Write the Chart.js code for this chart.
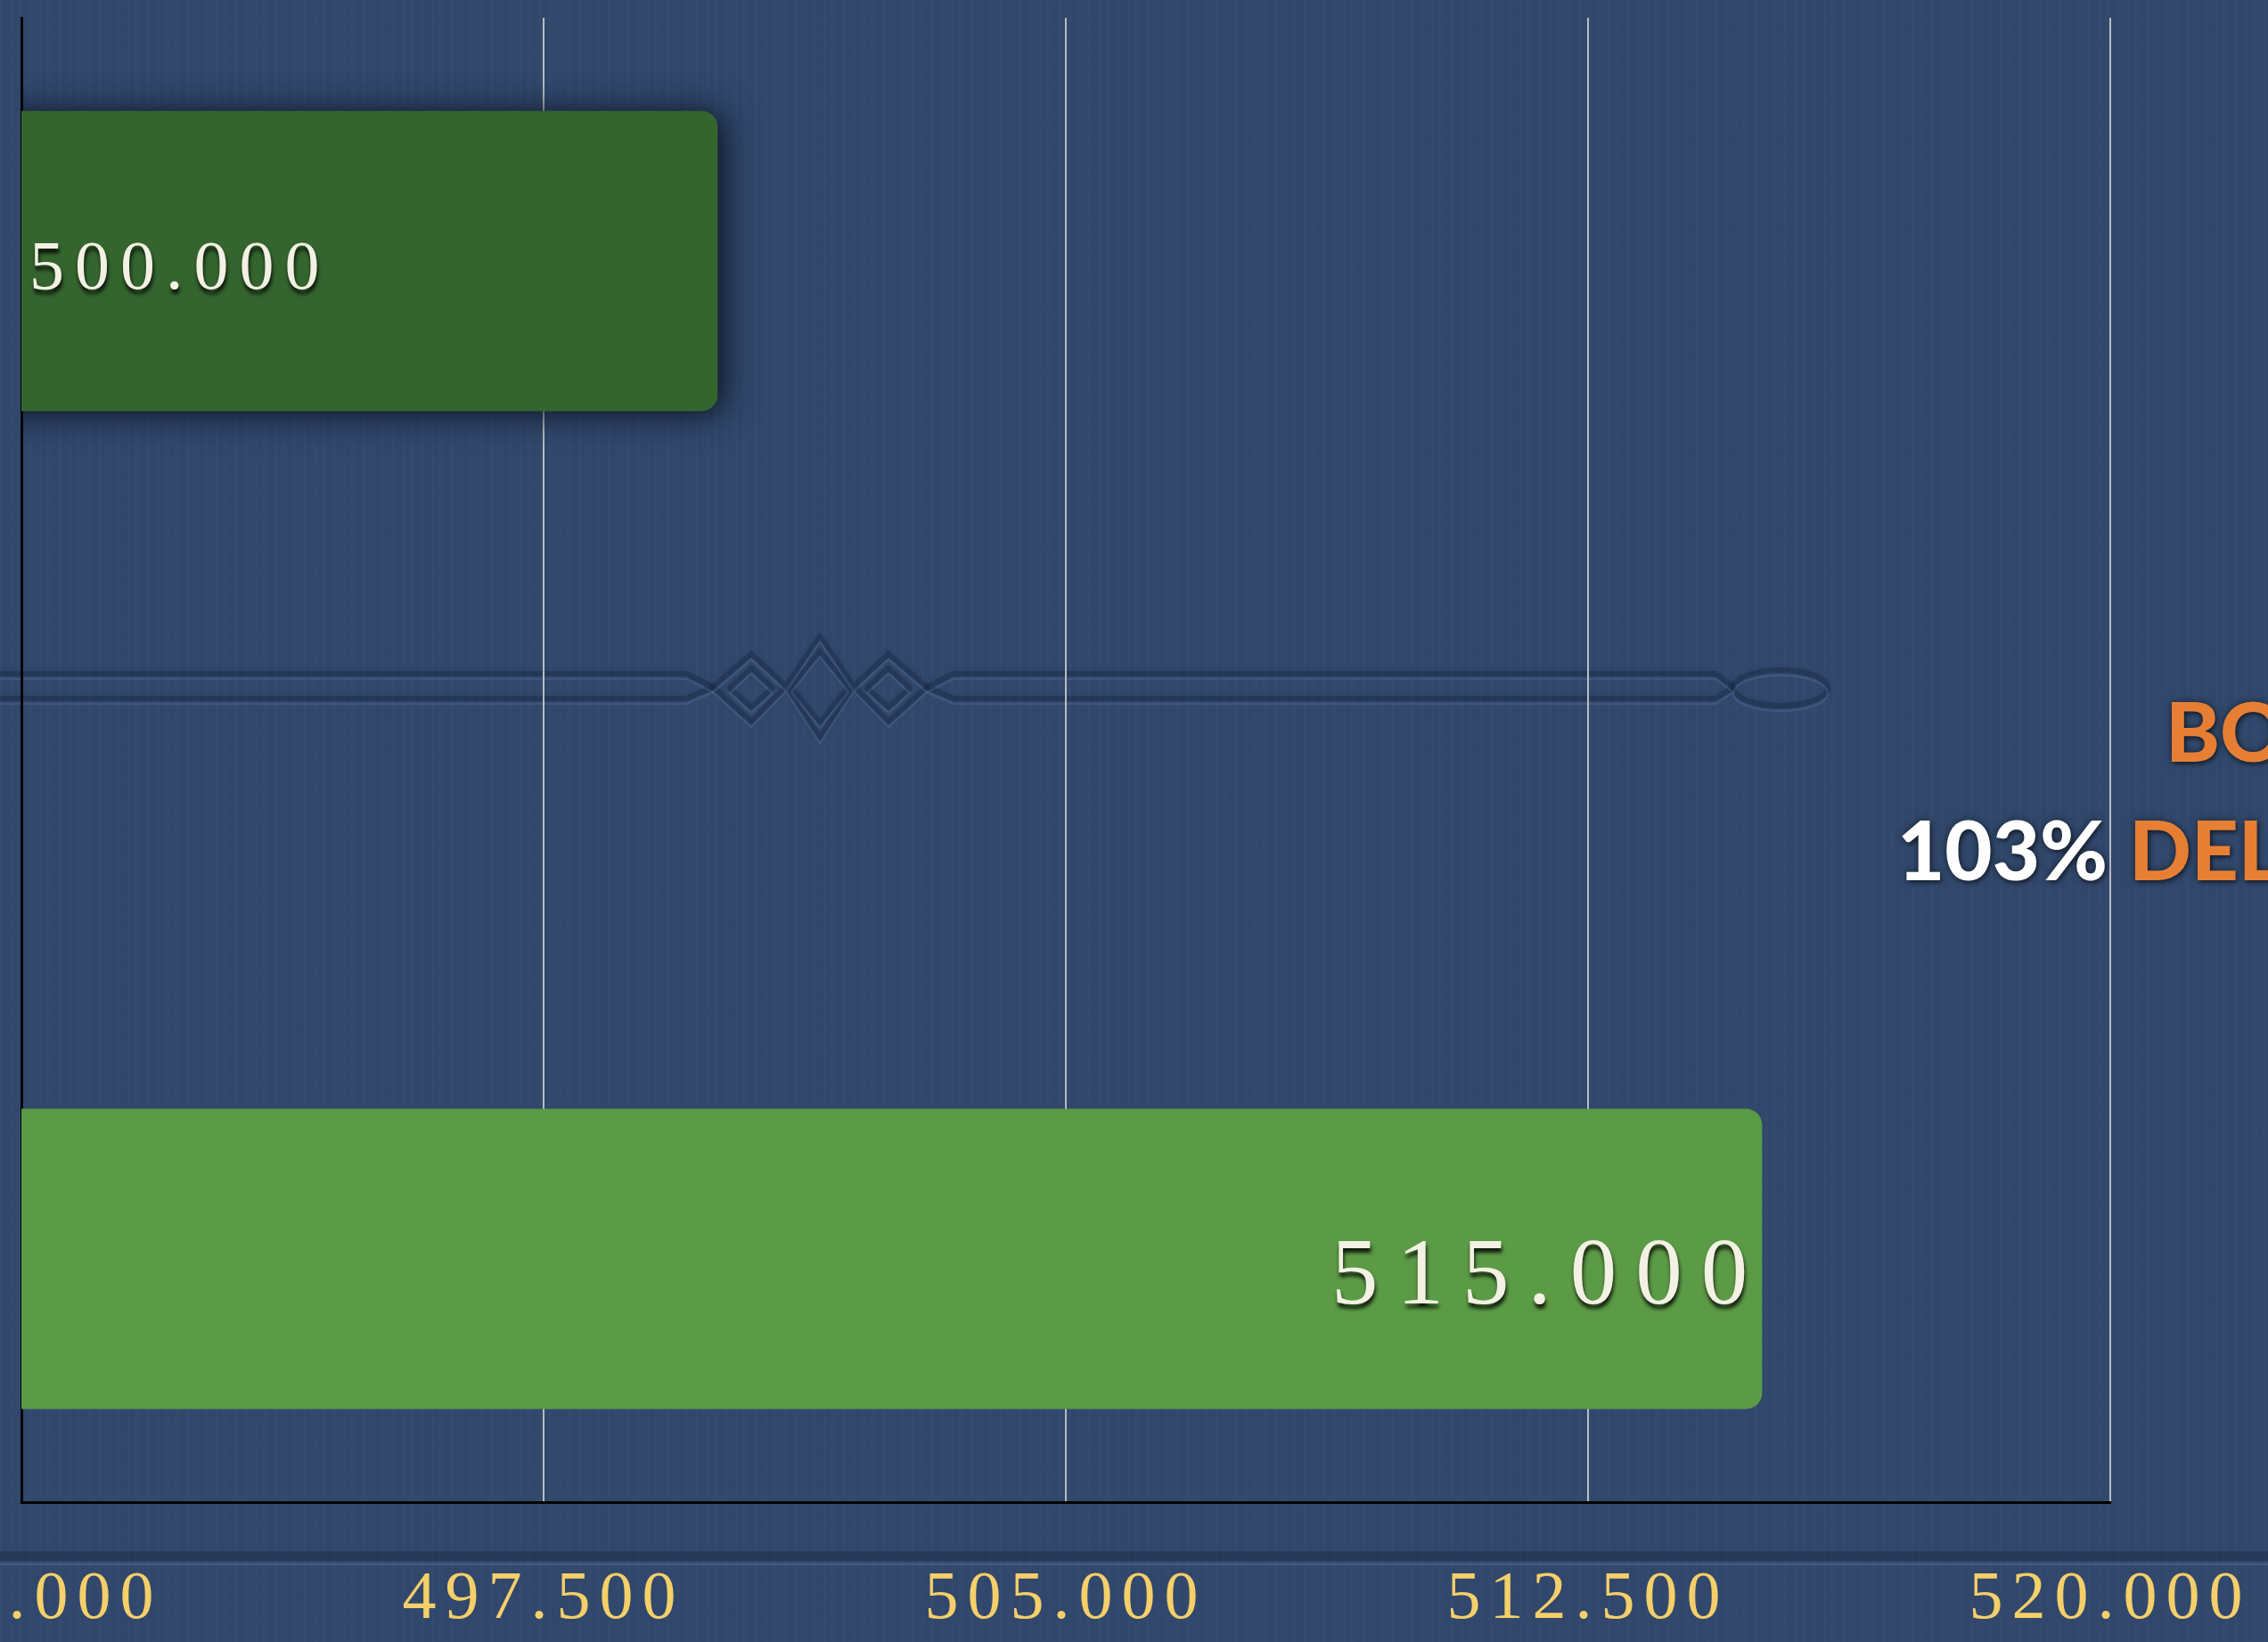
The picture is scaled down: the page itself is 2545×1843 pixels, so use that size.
<!DOCTYPE html>
<html>
<head>
<meta charset="utf-8">
<script src="https://cdn.jsdelivr.net/npm/chart.js@4.4.1/dist/chart.umd.min.js"></script>
<style>
  html, body { margin: 0; padding: 0; }
  body {
    width: 2545px; height: 1843px; overflow: hidden; position: relative;
    background-color: #31486c;
    background-image: repeating-linear-gradient(90deg, rgba(255,255,255,0.01) 0 3px, rgba(0,0,0,0.012) 3px 7px, rgba(255,255,255,0) 7px 11px);
  }
  #deco, #chart { position: absolute; left: 0; top: 0; }
  .note {
    position: absolute; white-space: nowrap;
    font-family: Lato, sans-serif; font-weight: 900; font-size: 92px; line-height: 92px;
    color: #e67f34;
    text-shadow: 0 0 8px rgba(0,0,0,0.55), 2px 3px 4px rgba(0,0,0,0.35);
  }
  .note .pct { color: #ffffff; }
</style>
</head>
<body>
<canvas id="deco" width="2545" height="1843"></canvas>
<canvas id="chart" width="2545" height="1843"></canvas>
<div class="note" style="left:2430px; top:774px;">BONO</div>
<div class="note" style="left:2129px; top:907px;"><span class="pct">103%</span> <span style="margin-left:2px">DEL OBJETIVO</span></div>
<script>
// values
const categories = ['Objetivo', 'Resultado'];
const goalValues = [500000, null];
const resultValues = [null, 515000];
const xTickValues = [490000, 497500, 505000, 512500, 520000];

const fmt = v => String(v).replace(/\B(?=(\d{3})+(?!\d))/g, '.');

// per-dataset look of the value labels
const labelStyle = [
    { size: 78, spacing: 12, align: 'left', dx: 9, dy: 10 },
    { size: 105, spacing: 21, align: 'right', dx: -16, dy: 22 }
];

function drawDeco() {
    const g = document.getElementById('deco').getContext('2d');
    g.lineCap = 'round';
    g.lineJoin = 'round';

    function groove(path) {
        g.save(); g.translate(0, -2); g.strokeStyle = 'rgba(16,26,46,0.28)'; g.lineWidth = 6;
        g.shadowColor = 'rgba(16,26,46,0.35)'; g.shadowBlur = 5; path(); g.stroke(); g.restore();
        g.save(); g.translate(0, 4); g.strokeStyle = 'rgba(125,150,192,0.2)'; g.lineWidth = 2.5; path(); g.stroke(); g.restore();
    }
    function diamond(cx, cy, hw, hh) {
        g.moveTo(cx, cy - hh); g.lineTo(cx + hw, cy); g.lineTo(cx, cy + hh); g.lineTo(cx - hw, cy); g.closePath();
    }

    // long double line across the middle
    groove(() => {
        g.beginPath();
        g.moveTo(0, 758); g.lineTo(770, 758); g.lineTo(800, 773);
        g.moveTo(0, 786); g.lineTo(770, 786); g.lineTo(800, 773);
        g.moveTo(1040, 773); g.lineTo(1070, 758); g.lineTo(1925, 758); g.lineTo(1945, 773);
        g.moveTo(1040, 773); g.lineTo(1070, 786); g.lineTo(1925, 786); g.lineTo(1945, 773);
    });
    // diamond knot
    groove(() => {
        g.beginPath();
        g.moveTo(800, 773); g.lineTo(843, 736); g.lineTo(882, 772); g.lineTo(920, 716); g.lineTo(958, 772); g.lineTo(997, 736); g.lineTo(1040, 773);
        g.moveTo(800, 773); g.lineTo(843, 812); g.lineTo(882, 772); g.lineTo(920, 830); g.lineTo(958, 772); g.lineTo(997, 812); g.lineTo(1040, 773);
        diamond(843, 774, 24, 22);
        diamond(920, 773, 32, 40);
        diamond(997, 774, 24, 22);
    });
    // lens at the right end
    groove(() => {
        g.beginPath();
        g.ellipse(1998, 774, 53, 20, 0, 0, Math.PI * 2);
    });

    // ridge above the bottom band
    g.fillStyle = 'rgba(14,24,44,0.3)';
    g.fillRect(0, 1741, 2545, 11);
    g.fillStyle = 'rgba(120,146,188,0.22)';
    g.fillRect(0, 1754, 2545, 3);
}

const tickSpacing = {
    id: 'tickSpacing',
    beforeLayout(chart) { chart.ctx.letterSpacing = '10px'; },
    beforeDraw(chart) { chart.ctx.letterSpacing = '10px'; }
};

const barShadow = {
    id: 'barShadow',
    beforeDatasetDraw(chart, args) {
        if (args.index !== 0) return;
        const ctx = chart.ctx;
        ctx.save();
        ctx.shadowColor = 'rgba(6,10,22,0.9)';
        ctx.shadowBlur = 36;
        ctx.shadowOffsetX = 6;
        ctx.shadowOffsetY = 2;
    },
    afterDatasetDraw(chart, args) {
        if (args.index === 0) chart.ctx.restore();
    }
};

const valueLabels = {
    id: 'valueLabels',
    afterDatasetsDraw(chart) {
        const ctx = chart.ctx;
        const xs = chart.scales.x;
        chart.data.datasets.forEach((ds, di) => {
            const st = labelStyle[di];
            chart.getDatasetMeta(di).data.forEach((bar, i) => {
                const v = ds.data[i];
                if (v == null) return;
                ctx.save();
                ctx.font = st.size + 'px "Liberation Serif"';
                ctx.letterSpacing = st.spacing + 'px';
                ctx.fillStyle = '#f3f1e3';
                ctx.textAlign = st.align;
                ctx.textBaseline = 'middle';
                ctx.shadowColor = 'rgba(0,0,0,0.85)';
                ctx.shadowOffsetX = 1;
                ctx.shadowOffsetY = 5;
                ctx.shadowBlur = 4;
                // bar base sits at value 0, far off the scale, so start from the axis
                const x = st.align === 'left' ? xs.getPixelForValue(xs.min) + st.dx : bar.x + st.dx + st.spacing;
                ctx.fillText(fmt(v), x, bar.y + st.dy);
                ctx.restore();
            });
        });
    }
};

drawDeco();

new Chart(document.getElementById('chart'), {
    type: 'bar',
    data: {
        labels: categories,
        datasets: [
            { label: 'Objetivo', data: goalValues, backgroundColor: '#35652f' },
            { label: 'Resultado', data: resultValues, backgroundColor: '#5c9b46' }
        ]
    },
    options: {
        indexAxis: 'y',
        responsive: false,
        devicePixelRatio: 1,
        animation: false,
        layout: { padding: { left: 24, right: 177, top: 20, bottom: 5 } },
        datasets: {
            bar: { categoryPercentage: 0.689, barPercentage: 1.174, borderRadius: 18, borderSkipped: 'start' }
        },
        plugins: { legend: { display: false }, tooltip: { enabled: false } },
        scales: {
            x: {
                min: 490000,
                max: 520000,
                afterBuildTicks: s => { s.ticks = xTickValues.map(v => ({ value: v })); },
                afterFit: s => { s.paddingLeft = 0; s.paddingRight = 0; s.height = 152; },
                grid: { color: '#b9bcc2', lineWidth: 2, drawTicks: false },
                border: { color: '#000000', width: 3 },
                ticks: {
                    color: '#f5cf69',
                    font: { family: 'Liberation Serif', size: 76 },
                    padding: 64,
                    maxRotation: 0,
                    autoSkip: false,
                    callback: v => fmt(v)
                }
            },
            y: {
                grid: { display: false, drawTicks: false },
                border: { color: '#000000', width: 3 },
                ticks: { display: false }
            }
        }
    },
    plugins: [tickSpacing, barShadow, valueLabels]
});
</script>
</body>
</html>
